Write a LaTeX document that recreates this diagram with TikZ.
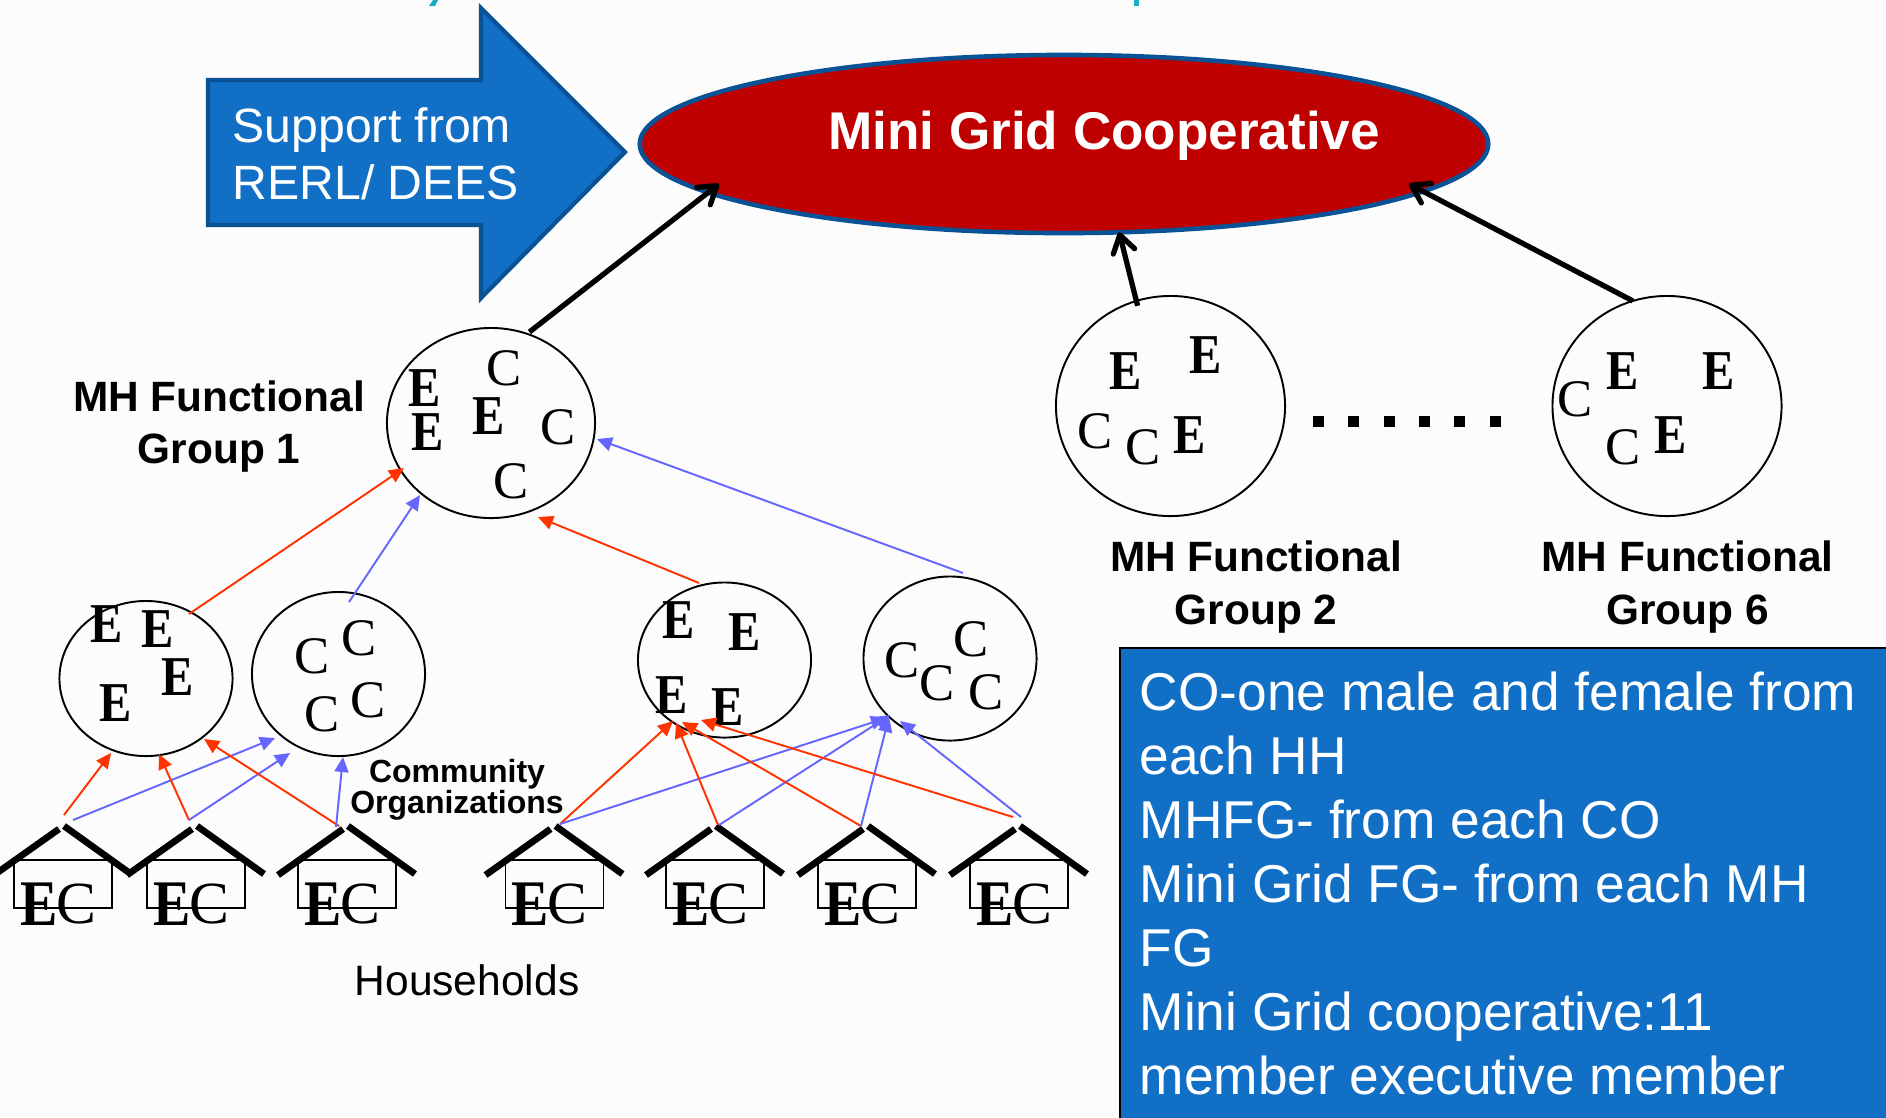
\documentclass[tikz,border=0pt]{standalone}
\usepackage{fontspec}
\setmainfont{Liberation Sans}
\newfontfamily\letterfont{Liberation Serif}
\newfontfamily\narrowletterfont[FakeStretch=0.86]{Liberation Serif}
\usetikzlibrary{arrows.meta,shapes.geometric}
\definecolor{slideblue}{HTML}{1170C6}
\definecolor{edgeblue}{HTML}{0A5296}
\definecolor{coopred}{HTML}{BF0000}
\definecolor{linkred}{HTML}{FF3300}
\definecolor{linkblue}{HTML}{6666FF}
\definecolor{titlecyan}{HTML}{1CADC4}
\tikzset{
  grpcircle/.style={ellipse,draw=black,line width=0.55pt,inner sep=0pt,outer sep=0pt},
  eletter/.style={inner sep=0pt,xshift=0.015cm,yshift=-0.015cm,font=\narrowletterfont\bfseries\fontsize{16}{16}\selectfont},
  cletter/.style={inner sep=0pt,xshift=0.015cm,yshift=-0.015cm,font=\letterfont\fontsize{15}{15}\selectfont},
  heletter/.style={inner sep=0pt,font=\narrowletterfont\bfseries\fontsize{18.5}{18.5}\selectfont},
  hcletter/.style={inner sep=0pt,font=\letterfont\fontsize{17}{17}\selectfont},
  grouplabel/.style={align=center,inner sep=0pt,font=\bfseries\fontsize{12.05}{14.8}\selectfont},
  redlink/.style={linkred,line width=0.55pt,-{Triangle[length=1.5mm,width=1.4mm]}},
  bluelink/.style={linkblue,line width=0.55pt,-{Triangle[length=1.5mm,width=1.4mm]}},
  biglink/.style={black,line width=1.5pt,shorten <=-0.05cm,-{Straight Barb[round,length=1.7mm,width=2.2mm,line width=1.5pt]}},
  roofline/.style={black,line width=1.9pt},
}
\begin{document}
\begin{tikzpicture}[x=0.01cm,y=-0.01cm]
  \useasboundingbox (0,0) rectangle (1886,1117);
  \fill[black!1] (0,0) rectangle (1886,1117);
  % bits of the cut off heading
  \fill[titlecyan] (429,6) -- (433,0) -- (438,0) -- (435,6) -- cycle;
  \fill[titlecyan] (1134,0) rectangle (1139,6);

  % support arrow
  \draw[fill=slideblue,draw=edgeblue,line width=1.2pt,line join=miter]
    (208,80)--(481,80)--(481,8)--(625,152)--(481,298)--(481,225)--(208,225)--cycle;
  \node[anchor=base west,align=flush left,inner sep=0pt,white,font=\fontsize{13.7}{16.2}\selectfont] (support) at (232,199) {Support from\\RERL/ DEES};

  % cooperative
  \node[ellipse,fill=coopred,draw=edgeblue,line width=1.3pt,inner sep=0pt,outer sep=0pt,minimum width=8.48cm,minimum height=1.78cm] (coop) at (1064,144) {};
  \node[white,inner sep=0pt,font=\bfseries\fontsize{15.1}{18}\selectfont] (cooptext) at (1104,136) {Mini Grid Cooperative};

  % functional groups
  \node[grpcircle,minimum width=2.08cm,minimum height=1.9cm] (grpa) at (491,423) {};
  \node[grpcircle,minimum width=2.29cm,minimum height=2.2cm] (grpb) at (1170.5,406) {};
  \node[grpcircle,minimum width=2.29cm,minimum height=2.2cm] (grpf) at (1667,406) {};
  % community organizations
  \node[grpcircle,minimum width=1.73cm,minimum height=1.55cm] (coea) at (146,678.5) {};
  \node[grpcircle,minimum width=1.73cm,minimum height=1.64cm] (coca) at (338.5,674) {};
  \node[grpcircle,minimum width=1.73cm,minimum height=1.55cm] (coeb) at (724.5,660) {};
  \node[grpcircle,minimum width=1.73cm,minimum height=1.64cm] (cocb) at (950,658.5) {};

  \foreach \x/\y [count=\i] in {423/387,426/431,487/415,1124/370,1204/354,1188/434,1621/370,1717/370,1669/434,
      105/623,156/628,176/676,114/702,677/619,743/631,670/694,726/706}
    \node[eletter] (e\i) at (\x,\y) {E};
  \foreach \x/\y [count=\i] in {503/367,557/426,510/480,1094/430,1142/446,1574/398,1622/446,
      311/655,358/637,321/713,367/699,901/659,970/638,936/682,985/691}
    \node[cletter] (c\i) at (\x,\y) {C};

  % six dots
  \foreach \x [count=\i] in {1318,1353,1389,1424,1459,1495}
    \node[fill=black,inner sep=0pt,minimum size=0.11cm] (dot\i) at (\x,421) {};

  % houses
  \foreach \x [count=\i] in {-6,127,278,485.5,646,798,950} {
    \draw[roofline] (\x,875)--({\x+65},829);
    \draw[roofline] ({\x+70},826)--({\x+137},874);
    \node[draw=black,line width=0.45pt,inner sep=0pt,minimum width=0.98cm,minimum height=0.48cm] (h\i) at ({\x+69},884) {};
    \node[heletter] (he\i) at ({\x+45},904) {E};
    \node[hcletter] (hc\i) at ({\x+82},904) {C};
  }

  % free ends of the thin links
  \foreach \n/\x/\y in {ta/64/815,tb/73/820,tc/189/820,td/339/826,te/336/827,tf/560/824,tg/718/825,th/719/825,
      ti/861/826,tj/1013/817,tk/1021/817,
      pa/111/753,pb/275/738,pc/159/754,pd/290/753,pe/204/739,pf/343/757,pg/673/721,ph/886/718,
      pi/676/723,pj/890/715,pk/682/722,pl/889/717,pm/701/720,pn/900/721,
      ua/189/614,ub/349/602,uc/699/583,ud/963/573,
      va/404/468,vb/420/495,vc/538/517,vd/597/439,
      biga/719/184,bigf/1409/184}
    \coordinate (\n) at (\x,\y);

  \draw[redlink] (ta)--(pa);
  \draw[bluelink] (tb)--(pb);
  \draw[redlink] (tc)--(pc);
  \draw[bluelink] (tc)--(pd);
  \draw[redlink] (td)--(pe);
  \draw[bluelink] (te)--(pf);
  \draw[redlink] (tf)--(pg);
  \draw[bluelink] (tf)--(ph);
  \draw[redlink] (tg)--(pi);
  \draw[bluelink] (th)--(pj);
  \draw[redlink] (ti)--(pk);
  \draw[bluelink] (ti)--(pl);
  \draw[redlink] (tj)--(pm);
  \draw[bluelink] (tk)--(pn);

  \draw[redlink] (ua)--(va);
  \draw[bluelink] (ub)--(vb);
  \draw[redlink] (uc)--(vc);
  \draw[bluelink] (ud)--(vd);

  \draw[biglink,shorten <=0.03cm] (grpa.68)--(biga);
  \draw[biglink] (grpb.108)--(coop.302);
  \draw[biglink,shorten <=0cm] (grpf.108)--(bigf);

  % labels
  \node[grouplabel] (lba) at (219,427) {MH Functional\\Group 1};
  \node[grouplabel] (lbb) at (1256,587) {MH Functional\\Group 2};
  \node[grouplabel] (lbf) at (1687.5,587) {MH Functional\\Group 6};
  \node[align=center,inner sep=0pt,font=\bfseries\fontsize{9.1}{8.8}\selectfont] (lbco) at (457,790) {Community\\Organizations};
  \node[inner sep=0pt,font=\fontsize{12.1}{14}\selectfont] (lbhh) at (467,980) {Households};

  % notes box
  \draw[fill=slideblue,draw=black,line width=0.7pt] (1120,648) rectangle (1900,1130);
  \node[anchor=north west,inner sep=0pt,text=white,align=flush left,text width=7.4cm,
    font=\fontsize{15.15}{18.2}\selectfont] (notes) at (1139,671)
    {CO-one male and female from\\each HH\\MHFG- from each CO\\Mini Grid FG- from each MH\\FG\\Mini Grid cooperative:11\\member executive member};
\end{tikzpicture}
\end{document}
